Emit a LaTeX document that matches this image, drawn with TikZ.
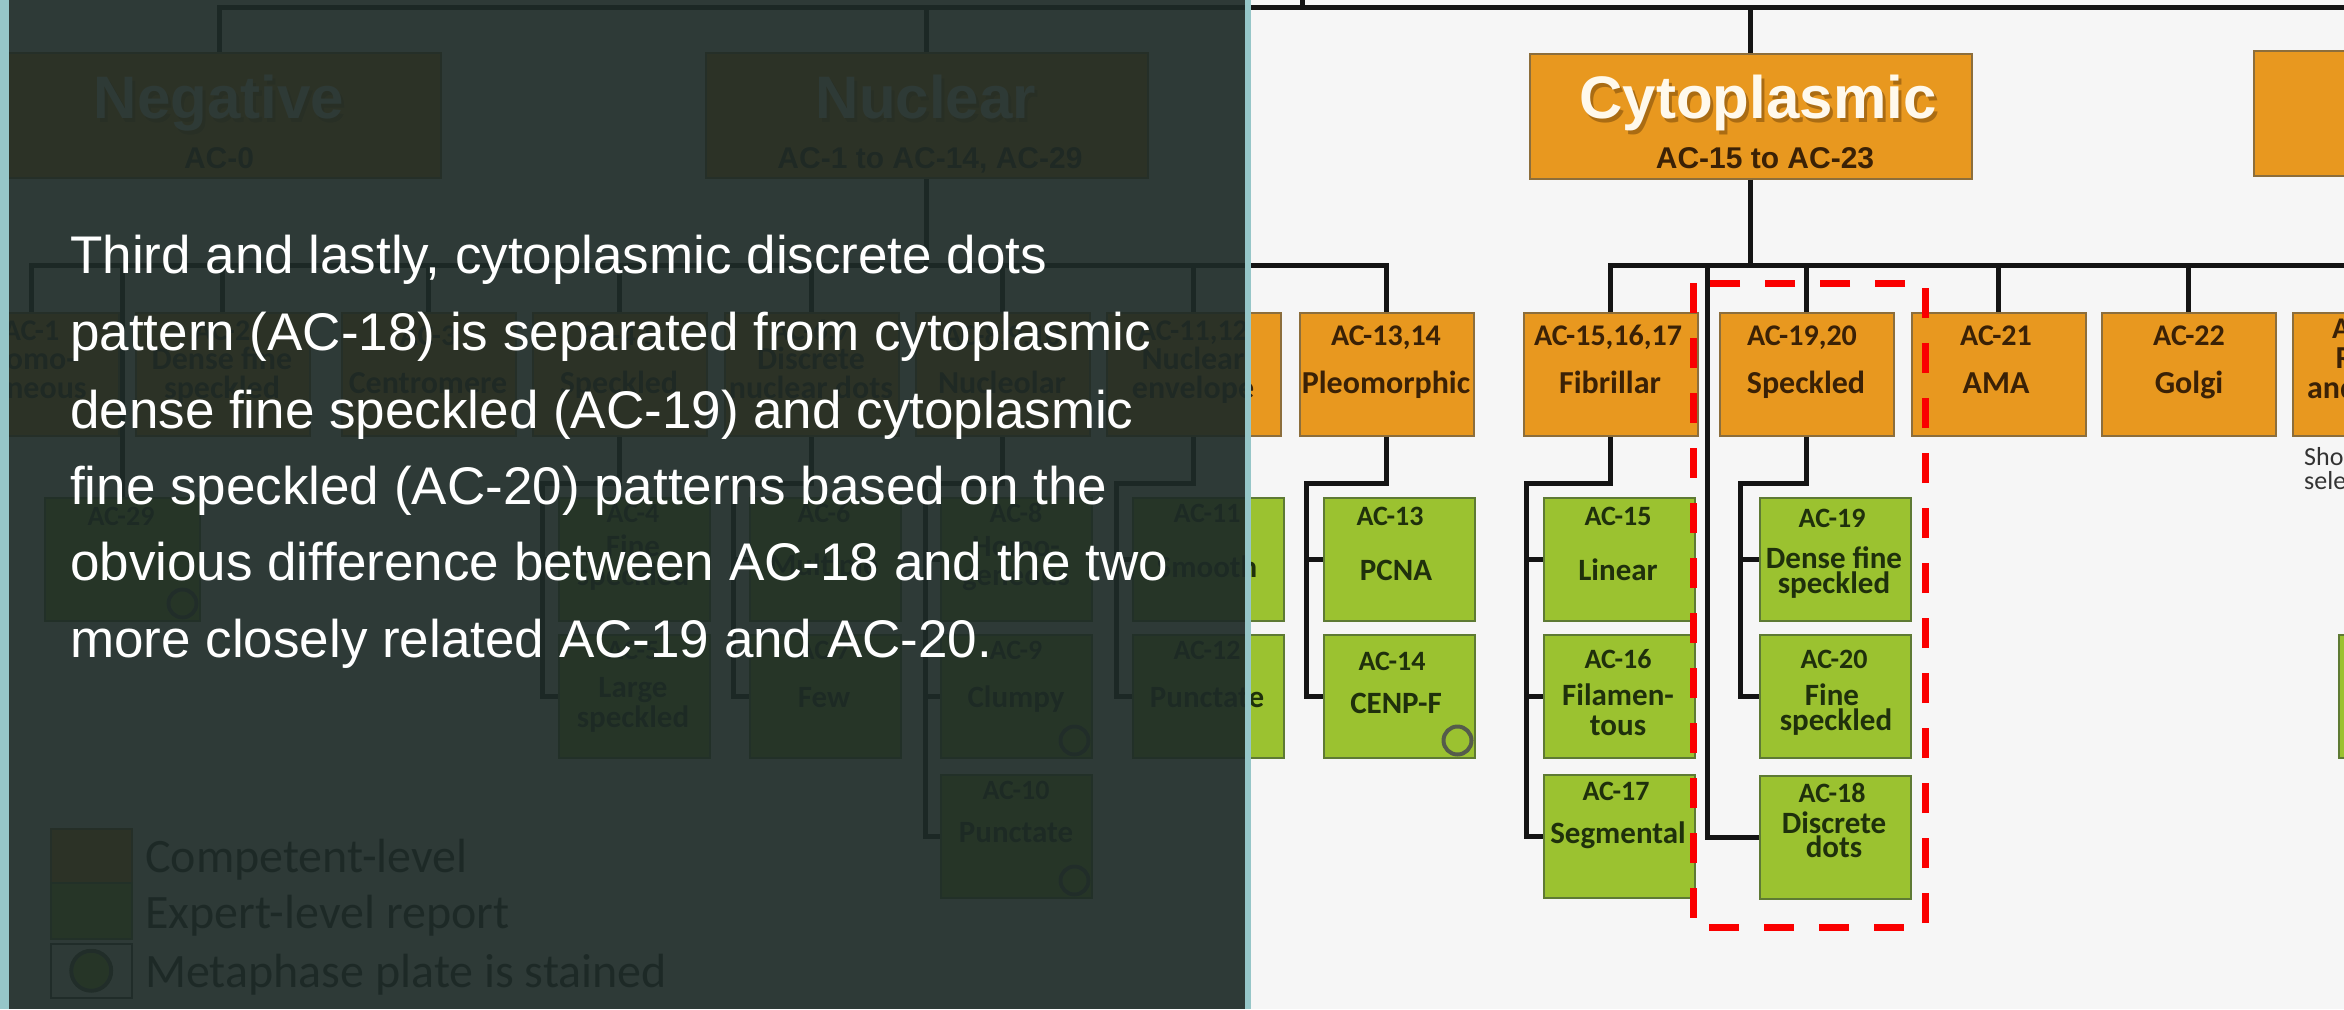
\documentclass[tikz,border=0pt]{standalone}
\usepackage{fontspec}
\setmainfont{Liberation Sans}
\newfontfamily\treefont{Carlito}
\usetikzlibrary{calc}

\definecolor{slidebg}{RGB}{246,246,246}
\definecolor{panelcol}{RGB}{29,42,39}
\definecolor{stripcol}{RGB}{150,198,200}
\definecolor{ofill}{RGB}{232,152,31}
\definecolor{oline}{RGB}{140,110,60}
\definecolor{otext}{RGB}{58,33,6}
\definecolor{gfill}{RGB}{155,194,48}
\definecolor{gline}{RGB}{94,122,52}
\definecolor{gtext}{RGB}{31,48,12}
\definecolor{wirecol}{RGB}{20,20,20}
\definecolor{hired}{RGB}{250,0,0}
\definecolor{ringcol}{RGB}{85,92,75}
\definecolor{titlecol}{RGB}{255,249,236}
\definecolor{shadowcol}{RGB}{120,72,10}

\begin{document}
\begin{tikzpicture}[x=1pt, y=-1pt,
    obox/.style={draw=oline, fill=ofill, line width=1.5pt, minimum width=174pt,
      minimum height=123pt, anchor=north west, inner sep=0pt},
    gbox/.style={obox, draw=gline, fill=gfill, minimum width=151pt},
    headbox/.style={obox, minimum width=442pt, minimum height=125pt},
    wire/.style={draw=wirecol, line width=5pt},
    ring/.style={draw=ringcol, line width=4pt},
    headtxt/.style={text=titlecol, anchor=base, inner sep=0pt, font=\bfseries\fontsize{60}{60}\selectfont},
    headshade/.style={headtxt, text=shadowcol, text opacity=0.55},
    headsub/.style={text=otext, anchor=base, inner sep=0pt, font=\bfseries\fontsize{30}{30}\selectfont},
    olbl/.style={text=otext, anchor=base, inner sep=0pt, font=\treefont\bfseries\fontsize{30}{30}\selectfont},
    oname/.style={olbl, font=\treefont\bfseries\fontsize{32}{32}\selectfont},
    glbl/.style={olbl, text=gtext, font=\treefont\bfseries\fontsize{28}{28}\selectfont},
    gname/.style={glbl, font=\treefont\bfseries\fontsize{31}{31}\selectfont},
    legtxt/.style={text=black!85, anchor=base west, inner sep=0pt, font=\treefont\fontsize{48}{48}\selectfont},
    para/.style={text=white, anchor=base west, inner sep=0pt, font=\fontsize{53}{64}\selectfont},
    hilite/.style={draw=hired, line width=7pt, dash pattern=on 30pt off 25pt}]

    \useasboundingbox (0,0) rectangle (2344,1009);
    \clip (0,0) rectangle (2344,1009);
    \fill[slidebg] (0,0) rectangle (2344,1009);

    % Top level boxes
    \node[headbox] (neg) at (-2,52) {};
    \node[headbox] (nuc) at (705,52) {};
    \node[headbox] (cyt) at (1529,53) {};
    \node[headbox] (mit) at (2253,50) {};

    \node[headshade] (neg-sh) at (222,122) {Negative};
    \node[headtxt] (neg-t) at (219,118) {Negative};
    \node[headsub] (neg-s) at (219,168) {AC-0};
    \node[headshade] (nuc-sh) at (929,122) {Nuclear};
    \node[headtxt] (nuc-t) at (926,118) {Nuclear};
    \node[headsub] (nuc-s) at (930,168) {AC-1 to AC-14, AC-29};
    \node[headshade] (cyt-sh) at (1761,122) {Cytoplasmic};
    \node[headtxt] (cyt-t) at (1758,118) {Cytoplasmic};
    \node[headsub] (cyt-s) at (1765,168) {AC-15 to AC-23};

    % Second level boxes
    \node[obox] (ac1) at (-56,312) {};
    \node[obox] (ac2) at (135,312) {};
    \node[obox] (ac3) at (341,312) {};
    \node[obox] (ac45) at (532,312) {};
    \node[obox] (ac67) at (724,312) {};
    \node[obox] (ac810) at (915,312) {};
    \node[obox] (ac1112) at (1106,312) {};
    \node[obox] (ac1314) at (1299,312) {};
    \node[obox] (fib) at (1523,312) {};
    \node[obox] (spk) at (1719,312) {};
    \node[obox] (ac21) at (1911,312) {};
    \node[obox] (ac22) at (2101,312) {};
    \node[obox] (ac23) at (2292,312) {};

    % Expert level boxes
    \node[gbox, minimum width=155pt] (ac29) at (44,497) {};
    \node[gbox] (ac4) at (558,497) {};
    \node[gbox] (ac5) at (558,634) {};
    \node[gbox] (ac6) at (749,497) {};
    \node[gbox] (ac7) at (749,634) {};
    \node[gbox] (ac8) at (940,497) {};
    \node[gbox] (ac9) at (940,634) {};
    \node[gbox] (ac10) at (940,774) {};
    \node[gbox] (ac11) at (1132,497) {};
    \node[gbox] (ac12) at (1132,634) {};
    \node[gbox] (ac13) at (1323,497) {};
    \node[gbox] (ac14) at (1323,634) {};
    \node[gbox] (ac15) at (1543,497) {};
    \node[gbox] (ac16) at (1543,634) {};
    \node[gbox] (ac17) at (1543,774) {};
    \node[gbox] (ac19) at (1759,497) {};
    \node[gbox] (ac20) at (1759,634) {};
    \node[gbox] (ac18) at (1759,775) {};
    \node[gbox] (ac24) at (2338,634) {};

    % Connectors of the top level
    \coordinate (rootjoin) at (1302,7);
    \draw[wire] (neg.north) -- (neg.north |- rootjoin) -- (mit.north |- rootjoin) -- (mit.north);
    \draw[wire] (nuc.north) -- (nuc.north |- rootjoin);
    \draw[wire] (cyt.north) -- (cyt.north |- rootjoin);
    \draw[wire] (rootjoin) -- ++(0,-20);

    % Connectors under Nuclear
    \coordinate (nucjoin) at (nuc.south |- 0,265);
    \draw[wire] (nuc.south) -- (nucjoin);
    \draw[wire] (ac1.north) -- (ac1.north |- nucjoin) -- (ac1314.north |- nucjoin) -- (ac1314.north);
    \draw[wire] (ac29.north) -- (ac29.north |- nucjoin);
    \draw[wire] (ac2.north) -- (ac2.north |- nucjoin);
    \draw[wire] (ac3.north) -- (ac3.north |- nucjoin);
    \draw[wire] (ac45.north) -- (ac45.north |- nucjoin);
    \draw[wire] (ac67.north) -- (ac67.north |- nucjoin);
    \draw[wire] (ac810.north) -- (ac810.north |- nucjoin);
    \draw[wire] (ac1112.north) -- (ac1112.north |- nucjoin);

    % Connectors under Cytoplasmic
    \coordinate (cytjoin) at (cyt.south |- 0,265);
    \coordinate (dotsjoin) at (1707,265);
    \draw[wire] (cyt.south) -- (cytjoin);
    \draw[wire] (fib.north) -- (fib.north |- cytjoin) -- (ac23.north |- cytjoin) -- ++(120,0);
    \draw[wire] (spk.north) -- (spk.north |- cytjoin);
    \draw[wire] (ac21.north) -- (ac21.north |- cytjoin);
    \draw[wire] (ac22.north) -- (ac22.north |- cytjoin);
    \draw[wire] (ac23.north) -- (ac23.north |- cytjoin);
    \draw[wire] (dotsjoin) |- (ac18.west);

    % Connectors down to the expert level
    \draw[wire] (ac45.south) -- ++(0,47) -| ([xshift=-16]ac5.west) -- (ac5.west);
    \draw[wire] ([xshift=-16]ac4.west) -- (ac4.west);
    \draw[wire] (ac67.south) -- ++(0,47) -| ([xshift=-16]ac7.west) -- (ac7.west);
    \draw[wire] ([xshift=-16]ac6.west) -- (ac6.west);
    \draw[wire] (ac810.south) -- ++(0,47) -| ([xshift=-15]ac10.west) -- (ac10.west);
    \draw[wire] ([xshift=-15]ac8.west) -- (ac8.west);
    \draw[wire] ([xshift=-15]ac9.west) -- (ac9.west);
    \draw[wire] (ac1112.south) -- ++(0,47) -| ([xshift=-16]ac12.west) -- (ac12.west);
    \draw[wire] ([xshift=-16]ac11.west) -- (ac11.west);
    \draw[wire] (ac1314.south) -- ++(0,47) -| ([xshift=-17]ac14.west) -- (ac14.west);
    \draw[wire] ([xshift=-17]ac13.west) -- (ac13.west);
    \draw[wire] (fib.south) -- ++(0,47) -| ([xshift=-17]ac17.west) -- (ac17.west);
    \draw[wire] ([xshift=-17]ac15.west) -- (ac15.west);
    \draw[wire] ([xshift=-17]ac16.west) -- (ac16.west);
    \draw[wire] (spk.south) -- ++(0,47) -| ([xshift=-19]ac20.west) -- (ac20.west);
    \draw[wire] ([xshift=-19]ac19.west) -- (ac19.west);

    % Labels of the second level
    \node[olbl] (ac1-a) at (31,340) {AC-1};
    \node[oname] (ac1-b) at (31,369) {Homo-};
    \node[oname] (ac1-c) at (31,398) {geneous};
    \node[olbl] (ac2-a) at (222,340) {AC-2};
    \node[oname] (ac2-b) at (222,369) {Dense fine};
    \node[oname] (ac2-c) at (222,398) {speckled};
    \node[olbl] (ac3-a) at (428,345) {AC-3};
    \node[oname] (ac3-b) at (428,393) {Centromere};
    \node[olbl] (ac45-a) at (619,345) {AC-4,5};
    \node[oname] (ac45-b) at (619,393) {Speckled};
    \node[olbl] (ac67-a) at (811,340) {AC-6,7};
    \node[oname] (ac67-b) at (811,369) {Discrete};
    \node[oname] (ac67-c) at (811,398) {nuclear dots};
    \node[olbl] (ac810-a) at (1002,345) {AC-8,9,10};
    \node[oname] (ac810-b) at (1002,393) {Nucleolar};
    \node[olbl] (ac1112-a) at (1193,340) {AC-11,12};
    \node[oname] (ac1112-b) at (1193,369) {Nuclear};
    \node[oname] (ac1112-c) at (1193,398) {envelope};
    \node[olbl] (ac1314-a) at (1386,345) {AC-13,14};
    \node[oname] (ac1314-b) at (1386,393) {Pleomorphic};
    \node[olbl] (fib-a) at (1608,345) {AC-15,16,17};
    \node[oname] (fib-b) at (1610,393) {Fibrillar};
    \node[olbl] (spk-a) at (1802,345) {AC-19,20};
    \node[oname] (spk-b) at (1806,393) {Speckled};
    \node[olbl] (ac21-a) at (1996,345) {AC-21};
    \node[oname] (ac21-b) at (1996,393) {AMA};
    \node[olbl] (ac22-a) at (2189,345) {AC-22};
    \node[oname] (ac22-b) at (2189,393) {Golgi};
    \node[olbl] (ac23-a) at (2368,338) {AC-23};
    \node[oname] (ac23-b) at (2368,368) {Rods};
    \node[oname] (ac23-c) at (2368,398) {and rings};
    \node[anchor=base west, inner sep=0pt, text=black!80, font=\treefont\fontsize{26}{26}\selectfont] (note-a) at (2304,465) {Sho};
    \node[anchor=base west, inner sep=0pt, text=black!80, font=\treefont\fontsize{26}{26}\selectfont] (note-b) at (2304,489) {sele};

    % Labels of the expert level
    \node[glbl] (ac29-a) at (121,525) {AC-29};
    \node[glbl] (ac4-a) at (633,522) {AC-4};
    \node[gname] (ac4-b) at (633,556) {Fine};
    \node[gname] (ac4-c) at (633,585) {speckled};
    \node[glbl] (ac5-a) at (633,659) {AC-5};
    \node[gname] (ac5-b) at (633,697) {Large};
    \node[gname] (ac5-c) at (633,727) {speckled};
    \node[glbl] (ac6-a) at (824,522) {AC-6};
    \node[gname] (ac6-b) at (824,575) {Multiple};
    \node[glbl] (ac7-a) at (824,659) {AC-7};
    \node[gname] (ac7-b) at (824,707) {Few};
    \node[glbl] (ac8-a) at (1016,522) {AC-8};
    \node[gname] (ac8-b) at (1016,556) {Homo-};
    \node[gname] (ac8-c) at (1016,585) {geneous};
    \node[glbl] (ac9-a) at (1016,659) {AC-9};
    \node[gname] (ac9-b) at (1016,707) {Clumpy};
    \node[glbl] (ac10-a) at (1016,799) {AC-10};
    \node[gname] (ac10-b) at (1016,842) {Punctate};
    \node[glbl] (ac11-a) at (1207,522) {AC-11};
    \node[gname] (ac11-b) at (1207,577) {Smooth};
    \node[glbl] (ac12-a) at (1207,659) {AC-12};
    \node[gname] (ac12-b) at (1207,707) {Punctate};
    \node[glbl] (ac13-a) at (1390,525) {AC-13};
    \node[gname] (ac13-b) at (1396,580) {PCNA};
    \node[glbl] (ac14-a) at (1392,670) {AC-14};
    \node[gname] (ac14-b) at (1396,713) {CENP-F};
    \node[glbl] (ac15-a) at (1618,525) {AC-15};
    \node[gname] (ac15-b) at (1618,580) {Linear};
    \node[glbl] (ac16-a) at (1618,668) {AC-16};
    \node[gname] (ac16-b) at (1618,705) {Filamen-};
    \node[gname] (ac16-c) at (1618,735) {tous};
    \node[glbl] (ac17-a) at (1616,800) {AC-17};
    \node[gname] (ac17-b) at (1618,843) {Segmental};
    \node[glbl] (ac19-a) at (1832,527) {AC-19};
    \node[gname] (ac19-b) at (1834,568) {Dense fine};
    \node[gname] (ac19-c) at (1834,593) {speckled};
    \node[glbl] (ac20-a) at (1834,668) {AC-20};
    \node[gname] (ac20-b) at (1832,705) {Fine};
    \node[gname] (ac20-c) at (1836,730) {speckled};
    \node[glbl] (ac18-a) at (1832,802) {AC-18};
    \node[gname] (ac18-b) at (1834,833) {Discrete};
    \node[gname] (ac18-c) at (1834,857) {dots};

    % Metaphase plate marks
    \draw[ring] ([xshift=-18,yshift=18]ac29.south east) circle (14pt);
    \draw[ring] ([xshift=-18,yshift=18]ac9.south east) circle (14pt);
    \draw[ring] ([xshift=-18,yshift=18]ac10.south east) circle (14pt);
    \draw[ring] ([xshift=-18,yshift=18]ac14.south east) circle (14pt);

    % Legend
    \node[obox, minimum width=81pt, minimum height=54pt] (leg1) at (50,828) {};
    \node[gbox, minimum width=81pt, minimum height=56pt] (leg2) at (50,882) {};
    \node[obox, draw=black!70, fill=white, minimum width=81pt, minimum height=54pt] (leg3) at (50,943) {};
    \draw[ring, fill=gfill] (leg3.center) circle (20pt);
    \node[legtxt] (leg1-t) at (145,872) {Competent-level};
    \node[legtxt] (leg2-t) at (145,928) {Expert-level report};
    \node[legtxt] (leg3-t) at (145,987) {Metaphase plate is stained};

    % Dark text panel over the left part
    \fill[panelcol, fill opacity=0.92] (9,0) rectangle (1245,1009);
    \fill[stripcol] (0,0) rectangle (9,1009);
    \fill[stripcol] (1245,0) rectangle (1251,1009);

    \node[para] (p1) at (70,273) {Third and lastly, cytoplasmic discrete dots};
    \node[para] (p2) at (70,350) {pattern (AC-18) is separated from cytoplasmic};
    \node[para] (p3) at (70,428) {dense fine speckled (AC-19) and cytoplasmic};
    \node[para] (p4) at (70,504) {fine speckled (AC-20) patterns based on the};
    \node[para] (p5) at (70,580) {obvious difference between AC-18 and the two};
    \node[para] (p6) at (70,657) {more closely related AC-19 and AC-20.};

    % Highlight of the speckled group
    \draw[hilite] (1693,283) rectangle (1925,927);

\end{tikzpicture}
\end{document}
